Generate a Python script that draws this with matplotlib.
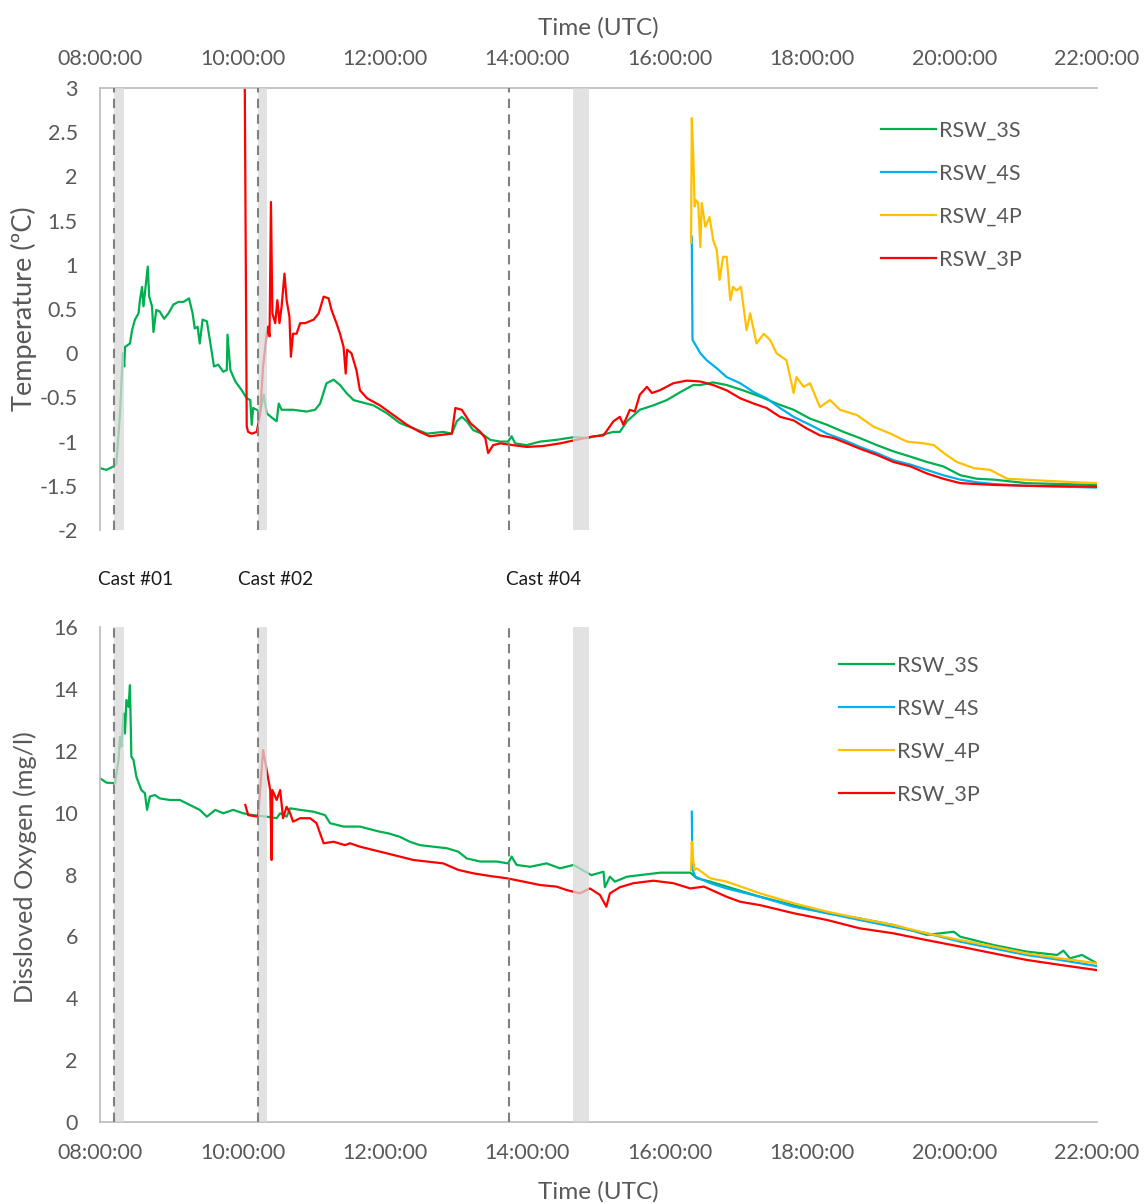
import matplotlib
matplotlib.use("Agg")
import matplotlib.pyplot as plt
from matplotlib.ticker import FuncFormatter, MultipleLocator
import matplotlib.transforms as mtransforms

# ---- temperature (degC), time in decimal hours UTC ----
t_temp_3s = [8.00, 8.09, 8.19, 8.23, 8.28, 8.32, 8.34, 8.35, 8.42, 8.45,
             8.49, 8.54, 8.56, 8.59, 8.61, 8.63, 8.67, 8.69, 8.73, 8.75,
             8.79, 8.84, 8.90, 8.96, 9.03, 9.10, 9.17, 9.25, 9.30, 9.33,
             9.37, 9.40, 9.44, 9.50, 9.55, 9.60, 9.66, 9.73, 9.78, 9.79,
             9.83, 9.90, 9.99, 10.06, 10.11, 10.13, 10.15, 10.25, 10.30, 10.34,
             10.43, 10.48, 10.51, 10.55, 10.71, 10.90, 11.02, 11.09, 11.18, 11.28,
             11.37, 11.46, 11.56, 11.65, 11.84, 12.03, 12.21, 12.40, 12.59, 12.82,
             12.94, 13.01, 13.08, 13.15, 13.24, 13.36, 13.48, 13.62, 13.73, 13.78,
             13.83, 13.99, 14.18, 14.41, 14.65, 14.83, 15.02, 15.21, 15.30, 15.40,
             15.58, 15.77, 15.96, 16.15, 16.33, 16.43, 16.61, 16.80, 17.03, 17.27,
             17.50, 17.74, 17.97, 18.21, 18.44, 18.67, 18.91, 19.14, 19.38, 19.61,
             19.84, 20.08, 20.31, 20.55, 21.01, 21.48, 22.00]
temp_3s = [-1.30, -1.32, -1.28, -1.25, -0.68, 0.00, -0.15, 0.07, 0.11, 0.26,
           0.38, 0.45, 0.60, 0.75, 0.53, 0.68, 0.98, 0.64, 0.53, 0.24,
           0.49, 0.47, 0.39, 0.45, 0.55, 0.58, 0.58, 0.62, 0.45, 0.28,
           0.30, 0.11, 0.38, 0.36, 0.11, -0.15, -0.13, -0.21, -0.19, 0.21,
           -0.19, -0.32, -0.42, -0.51, -0.53, -0.81, -0.62, -0.66, -0.47, -0.68,
           -0.74, -0.77, -0.57, -0.64, -0.64, -0.66, -0.64, -0.57, -0.34, -0.30,
           -0.36, -0.45, -0.53, -0.55, -0.59, -0.68, -0.79, -0.85, -0.91, -0.89,
           -0.91, -0.77, -0.72, -0.77, -0.87, -0.91, -0.98, -1.00, -1.00, -0.94,
           -1.02, -1.04, -1.00, -0.98, -0.95, -0.96, -0.93, -0.89, -0.89, -0.77,
           -0.64, -0.59, -0.53, -0.44, -0.36, -0.36, -0.33, -0.36, -0.42, -0.49,
           -0.57, -0.64, -0.74, -0.81, -0.89, -0.96, -1.04, -1.11, -1.17, -1.23,
           -1.28, -1.38, -1.42, -1.43, -1.47, -1.48, -1.49]

t_temp_4s = [16.31, 16.32, 16.38, 16.43, 16.52, 16.66, 16.80, 16.99, 17.18, 17.36,
             17.55, 17.74, 17.97, 18.21, 18.44, 18.67, 18.91, 19.14, 19.38, 19.61,
             19.84, 20.08, 20.31, 20.55, 21.01, 21.48, 22.00]
temp_4s = [1.32, 0.15, 0.07, 0.00, -0.08, -0.17, -0.27, -0.34, -0.44, -0.51,
           -0.62, -0.72, -0.81, -0.91, -0.98, -1.06, -1.13, -1.21, -1.26, -1.32,
           -1.38, -1.43, -1.46, -1.48, -1.50, -1.51, -1.52]

t_temp_4p = [16.30, 16.31, 16.33, 16.35, 16.37, 16.40, 16.43, 16.45, 16.50, 16.56,
             16.61, 16.66, 16.70, 16.75, 16.80, 16.82, 16.85, 16.89, 16.94, 17.00,
             17.08, 17.13, 17.22, 17.32, 17.41, 17.50, 17.64, 17.74, 17.78, 17.88,
             17.97, 18.11, 18.25, 18.39, 18.63, 18.86, 19.10, 19.33, 19.57, 19.71,
             19.85, 20.03, 20.27, 20.50, 20.74, 20.97, 21.44, 22.00]
temp_4p = [1.25, 2.66, 2.26, 1.66, 1.73, 1.70, 1.20, 1.70, 1.43, 1.54,
           1.28, 1.17, 0.83, 1.09, 1.09, 0.90, 0.60, 0.75, 0.71, 0.75,
           0.26, 0.45, 0.11, 0.22, 0.15, 0.00, -0.08, -0.45, -0.27, -0.38,
           -0.34, -0.61, -0.53, -0.64, -0.70, -0.83, -0.91, -1.00, -1.02, -1.04,
           -1.13, -1.23, -1.30, -1.32, -1.42, -1.43, -1.45, -1.47]

t_temp_3p = [10.03, 10.06, 10.08, 10.13, 10.20, 10.25, 10.29, 10.34, 10.36, 10.38,
             10.40, 10.42, 10.46, 10.49, 10.52, 10.55, 10.59, 10.62, 10.66, 10.68,
             10.71, 10.76, 10.81, 10.88, 11.00, 11.07, 11.14, 11.21, 11.25, 11.32,
             11.37, 11.42, 11.45, 11.47, 11.53, 11.60, 11.65, 11.75, 11.93, 12.12,
             12.31, 12.49, 12.63, 12.94, 12.99, 13.08, 13.20, 13.34, 13.41, 13.45,
             13.52, 13.62, 13.80, 13.99, 14.22, 14.46, 14.69, 14.93, 15.07, 15.21,
             15.30, 15.35, 15.44, 15.51, 15.58, 15.68, 15.75, 15.86, 16.05, 16.24,
             16.43, 16.61, 16.80, 16.99, 17.18, 17.36, 17.55, 17.74, 17.92, 18.11,
             18.30, 18.49, 18.67, 18.91, 19.14, 19.38, 19.61, 19.84, 20.08, 20.31,
             20.55, 21.01, 22.00]
temp_3p = [3.40, -0.83, -0.89, -0.91, -0.89, -0.68, -0.15, 0.22, 0.30, 0.19,
           1.71, 0.45, 0.34, 0.60, 0.34, 0.53, 0.90, 0.60, 0.41, -0.04,
           0.22, 0.22, 0.34, 0.34, 0.38, 0.45, 0.64, 0.62, 0.49, 0.34,
           0.22, 0.07, -0.23, 0.04, 0.00, -0.19, -0.42, -0.51, -0.59, -0.70,
           -0.81, -0.89, -0.94, -0.91, -0.62, -0.64, -0.79, -0.89, -0.96, -1.13,
           -1.04, -1.02, -1.04, -1.06, -1.05, -1.02, -0.98, -0.94, -0.93, -0.77,
           -0.72, -0.81, -0.64, -0.66, -0.47, -0.38, -0.45, -0.42, -0.34, -0.31,
           -0.32, -0.36, -0.42, -0.51, -0.57, -0.62, -0.72, -0.76, -0.85, -0.93,
           -0.96, -1.02, -1.08, -1.15, -1.23, -1.28, -1.36, -1.42, -1.47, -1.48,
           -1.49, -1.50, -1.51]

# ---- dissolved oxygen (mg/l) ----
t_do_3s = [8.00, 8.09, 8.21, 8.26, 8.28, 8.30, 8.33, 8.35, 8.37, 8.40,
           8.42, 8.44, 8.47, 8.51, 8.58, 8.63, 8.66, 8.70, 8.77, 8.84,
           8.98, 9.12, 9.26, 9.40, 9.50, 9.62, 9.73, 9.87, 10.01, 10.15,
           10.34, 10.48, 10.53, 10.62, 10.67, 10.81, 11.00, 11.16, 11.23, 11.42,
           11.65, 11.90, 12.05, 12.21, 12.35, 12.49, 12.68, 12.87, 13.03, 13.15,
           13.34, 13.57, 13.73, 13.78, 13.85, 14.04, 14.27, 14.46, 14.65, 14.90,
           15.07, 15.09, 15.16, 15.23, 15.40, 15.58, 15.87, 16.29, 16.38, 16.57,
           16.80, 17.27, 17.74, 18.21, 18.67, 19.14, 19.61, 19.99, 20.08, 20.55,
           21.01, 21.44, 21.53, 21.62, 21.79, 22.00]
do_3s = [11.11, 10.97, 10.95, 11.70, 12.45, 12.13, 13.21, 12.56, 13.64, 13.42,
         14.12, 11.81, 11.70, 11.16, 10.73, 10.63, 10.09, 10.52, 10.57, 10.46,
         10.41, 10.41, 10.25, 10.09, 9.87, 10.09, 9.98, 10.09, 9.98, 9.92,
         9.87, 9.82, 9.98, 9.87, 10.14, 10.09, 10.03, 9.92, 9.66, 9.55,
         9.55, 9.40, 9.33, 9.22, 9.06, 8.95, 8.90, 8.85, 8.74, 8.52,
         8.42, 8.42, 8.36, 8.58, 8.31, 8.25, 8.36, 8.20, 8.31, 7.98,
         8.09, 7.59, 7.93, 7.77, 7.93, 7.98, 8.06, 8.06, 7.88, 7.77,
         7.61, 7.28, 7.01, 6.75, 6.58, 6.37, 6.05, 6.15, 5.99, 5.72,
         5.51, 5.40, 5.54, 5.29, 5.40, 5.13]

t_do_4s = [16.31, 16.32, 16.36, 16.57, 16.80, 17.27, 17.74, 18.21, 18.67, 19.14,
           19.61, 20.08, 20.55, 21.01, 21.48, 22.00]
do_4s = [10.03, 8.15, 7.93, 7.72, 7.55, 7.28, 6.96, 6.75, 6.53, 6.31,
         6.10, 5.83, 5.61, 5.40, 5.24, 5.04]

t_do_4p = [16.30, 16.31, 16.33, 16.35, 16.38, 16.57, 16.80, 17.27, 17.74, 18.21,
           18.67, 19.14, 19.61, 20.08, 20.55, 21.01, 21.48, 22.00]
do_4p = [8.15, 9.06, 8.47, 8.15, 8.20, 7.88, 7.77, 7.39, 7.07, 6.80,
         6.58, 6.37, 6.10, 5.88, 5.67, 5.45, 5.29, 5.13]

t_do_3p = [10.04, 10.08, 10.22, 10.29, 10.34, 10.39, 10.41, 10.42, 10.48, 10.53,
           10.57, 10.62, 10.67, 10.71, 10.81, 10.95, 11.04, 11.09, 11.14, 11.28,
           11.44, 11.51, 11.65, 12.21, 12.40, 12.59, 12.82, 13.03, 13.24, 13.48,
           13.71, 13.95, 14.18, 14.41, 14.55, 14.74, 14.88, 15.02, 15.11, 15.16,
           15.30, 15.49, 15.77, 16.05, 16.29, 16.48, 16.80, 16.99, 17.27, 17.74,
           18.21, 18.67, 19.14, 19.61, 20.08, 20.55, 21.01, 21.48, 22.00]
do_3p = [10.25, 9.92, 9.87, 12.02, 11.38, 10.73, 8.47, 10.73, 10.41, 10.73,
         9.82, 10.19, 9.98, 9.71, 9.82, 9.82, 9.66, 9.33, 9.01, 9.06,
         8.95, 9.01, 8.90, 8.58, 8.47, 8.42, 8.36, 8.15, 8.04, 7.95,
         7.88, 7.77, 7.66, 7.61, 7.50, 7.39, 7.55, 7.34, 6.96, 7.39,
         7.59, 7.72, 7.80, 7.72, 7.55, 7.61, 7.28, 7.12, 7.01, 6.75,
         6.53, 6.26, 6.10, 5.88, 5.67, 5.45, 5.24, 5.08, 4.91]

# CTD casts: start of cast (dashed line) and sampling window (grey band)
cast_labels = ["Cast #01", "Cast #02", "Cast #04"]
cast_times = [8.20, 10.22, 13.75]
cast_label_x = [7.97, 9.94, 13.70]
windows = [(8.20, 8.33), (10.22, 10.35), (14.64, 14.86)]

series = ["RSW_3S", "RSW_4S", "RSW_4P", "RSW_3P"]
colors = ["#00B050", "#00B0F0", "#FFC000", "#FF0000"]

GREY_TXT = "#595959"
plt.rcParams["font.family"] = ["Lato", "DejaVu Sans"]

fig = plt.figure(figsize=(11.46, 12.04), dpi=100)
ax1 = fig.add_axes([0.0873, 0.5598, 0.8699, 0.3671])
ax2 = fig.add_axes([0.0873, 0.0681, 0.8699, 0.4111])

temp_data = [(t_temp_3s, temp_3s), (t_temp_4s, temp_4s),
             (t_temp_4p, temp_4p), (t_temp_3p, temp_3p)]
do_data = [(t_do_3s, do_3s), (t_do_4s, do_4s), (t_do_4p, do_4p), (t_do_3p, do_3p)]

for (tt, vv), name, c in zip(temp_data, series, colors):
    ax1.plot(tt, vv, color=c, lw=1.6, label=name, zorder=2)
for (tt, vv), name, c in zip(do_data, series, colors):
    ax2.plot(tt, vv, color=c, lw=1.6, label=name, zorder=2)

hour_fmt = FuncFormatter(lambda x, pos: "%02d:00:00" % int(round(x)))

for ax in (ax1, ax2):
    for x0, x1 in windows:
        ax.axvspan(x0, x1, color="#d9d9d9", alpha=0.75, lw=0, zorder=3)
    for ct in cast_times:
        ax.axvline(ct, color="#808080", lw=1.5, ls=(0, (4.5, 3)), zorder=4)
    ax.set_xlim(8, 22)
    ax.xaxis.set_major_locator(MultipleLocator(2))
    ax.xaxis.set_major_formatter(hour_fmt)
    ax.tick_params(length=0, labelsize=15.5, colors=GREY_TXT)
    ax.tick_params(axis="y", pad=16)
    for s in ax.spines.values():
        s.set_color("#bfbfbf")
        s.set_linewidth(1.3)
    ax.spines["right"].set_visible(False)

# temperature panel, time axis on top
ax1.set_ylim(-2, 3)
ax1.yaxis.set_major_locator(MultipleLocator(0.5))
ax1.yaxis.set_major_formatter(FuncFormatter(lambda y, pos: "%g" % y))
ax1.xaxis.tick_top()
ax1.xaxis.set_label_position("top")
ax1.spines["bottom"].set_visible(False)
ax1.tick_params(axis="x", pad=14)
ax1.set_xlabel("Time (UTC)", fontsize=17.5, color=GREY_TXT)
ax1.xaxis.set_label_coords(0.5, 1.122)
ax1.set_ylabel("Temperature (ºC)", fontsize=19.5, color=GREY_TXT)
ax1.yaxis.set_label_coords(-0.063, 0.5)

# oxygen panel
ax2.set_ylim(0, 16)
ax2.yaxis.set_major_locator(MultipleLocator(2))
ax2.spines["top"].set_visible(False)
ax2.tick_params(axis="x", pad=15)
ax2.set_xlabel("Time (UTC)", fontsize=17.5, color=GREY_TXT)
ax2.xaxis.set_label_coords(0.5, -0.12)
ax2.set_ylabel("Dissloved Oxygen (mg/l)", fontsize=18.2, color=GREY_TXT)
ax2.yaxis.set_label_coords(-0.063, 0.515)

# cast names between the panels
trans = mtransforms.blended_transform_factory(ax1.transData, ax1.transAxes)
for name, lx in zip(cast_labels, cast_label_x):
    ax1.text(lx, -0.113, name, transform=trans, fontsize=13.7,
             color="#1a1a1a", ha="left", va="center", clip_on=False)

leg_kw = dict(frameon=False, fontsize=15.5, handlelength=2.55, handletextpad=0.15,
              labelspacing=1.07, borderpad=0, borderaxespad=0, labelcolor=GREY_TXT)
ax1.legend(loc="upper left", bbox_to_anchor=(0.783, 0.927), **leg_kw)
ax2.legend(loc="upper left", bbox_to_anchor=(0.741, 0.942), **leg_kw)

fig.savefig("out.png", dpi=100)
